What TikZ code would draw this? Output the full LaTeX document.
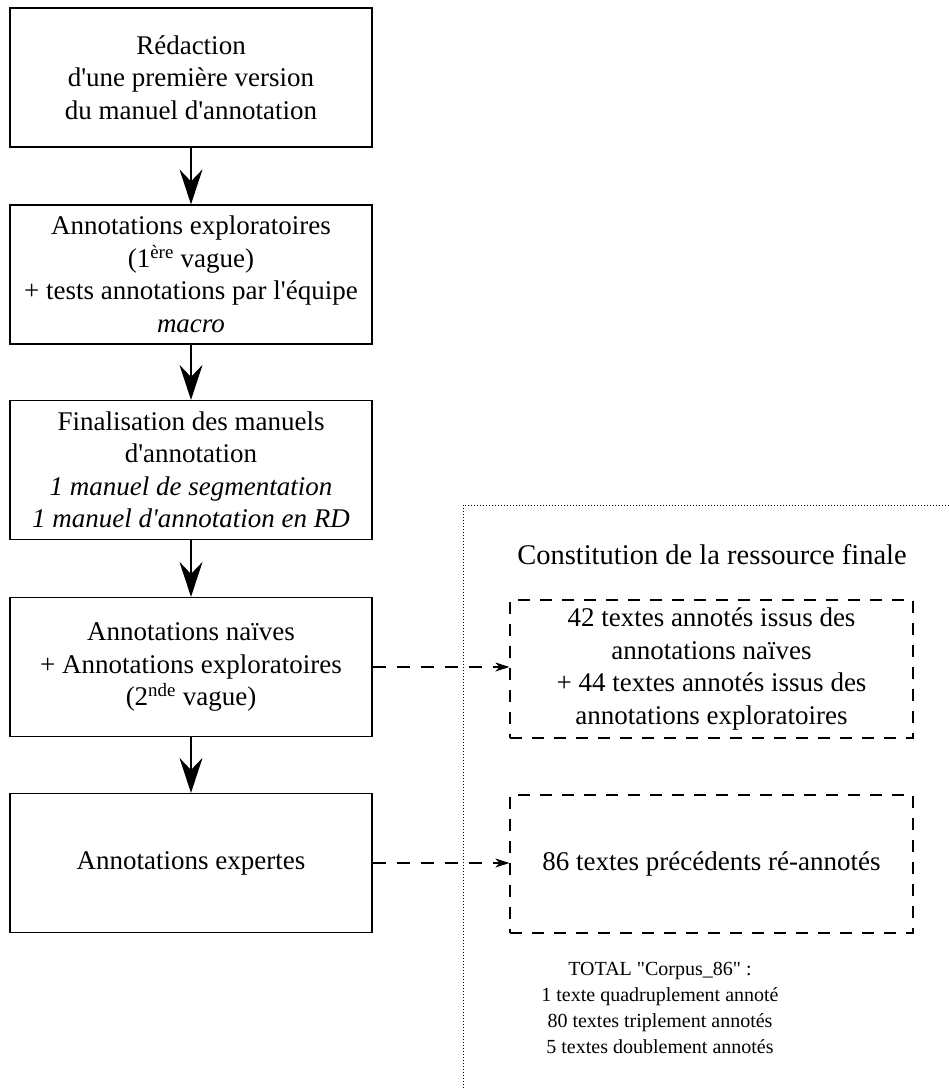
\documentclass[tikz,border=0pt]{standalone}
\usepackage{fontspec}
\setmainfont{Liberation Serif}[Ligatures=TeXOff]
\usepackage{tikz}
\usetikzlibrary{arrows.meta}
\usetikzlibrary{positioning}
\newcommand{\policeboite}{\fontsize{27}{32.5}\selectfont}
\newcommand{\policetitre}{\fontsize{28.5}{33}\selectfont}
\newcommand{\policetotal}{\fontsize{20}{25.8}\selectfont}
\tikzstyle{etape} = [rectangle, draw, line width=1.2pt, minimum width=362pt, minimum height=139pt, align=center, inner sep=2pt, font=\policeboite]
\tikzstyle{resultat} = [rectangle, draw, line width=1.2pt, dash pattern=on 12pt off 10pt, minimum width=403pt, minimum height=138pt, align=center, inner sep=2pt, font=\policeboite]
\tikzstyle{fleche} = [-{Stealth[length=35pt, width=23pt, inset=12pt]}, line width=1.5pt]
\tikzstyle{renvoi} = [-{Stealth[length=14pt, width=9pt, inset=4pt]}, line width=1.5pt, dash pattern=on 13pt off 11pt]
\tikzstyle{cadre} = [line width=0.9pt, dash pattern=on 0.9pt off 2.1pt]

\begin{document}
\begin{tikzpicture}[x=1pt, y=-1pt]
\useasboundingbox (0, 0) rectangle (949, 1090);
% colonne de gauche
\node [etape] (redaction) at (191, 77.5) {R\'edaction\\d'une premi\`ere version\\du manuel d'annotation};
\node [etape] (explo) at (191, 274.5) {Annotations exploratoires\\(1\textsuperscript{\`ere} vague)\\+ tests annotations par l'\'equipe\\\textit{macro}};
\node [etape] (finalisation) at (191, 470) {Finalisation des manuels\\d'annotation\\\textit{1 manuel de segmentation}\\\textit{1 manuel d'annotation en RD}};
\node [etape] (naives) at (191, 667) {Annotations na\"ives\\+ Annotations exploratoires\\(2\textsuperscript{nde} vague)};
\node [etape] (expertes) at (191, 863) {Annotations expertes};
\draw [fleche] (redaction) -- (explo);
\draw [fleche] (explo) -- (finalisation);
\draw [fleche] (finalisation) -- (naives);
\draw [fleche] (naives) -- (expertes);
% ressource finale
\draw [cadre] (463, 1100) -- (463, 505) -- (960, 505);
\node [draw=none, font=\policetitre] (titre) at (712, 555) {Constitution de la ressource finale};
\node [resultat] (ressA) at (711.5, 669) {42 textes annot\'es issus des\\annotations na\"ives\\+ 44 textes annot\'es issus des\\annotations exploratoires};
\node [resultat] (ressB) at (711.5, 864) {86 textes pr\'ec\'edents r\'e-annot\'es};
\node [draw=none, align=center, font=\policetotal] (total) at (660, 1008) {TOTAL "Corpus\_86" :\\1 texte quadruplement annot\'e\\80 textes triplement annot\'es\\5 textes doublement annot\'es};
\draw [renvoi] (naives.east) -- (naives.east -| ressA.west);
\draw [renvoi] (expertes.east) -- (expertes.east -| ressB.west);
\end{tikzpicture}
\end{document}
